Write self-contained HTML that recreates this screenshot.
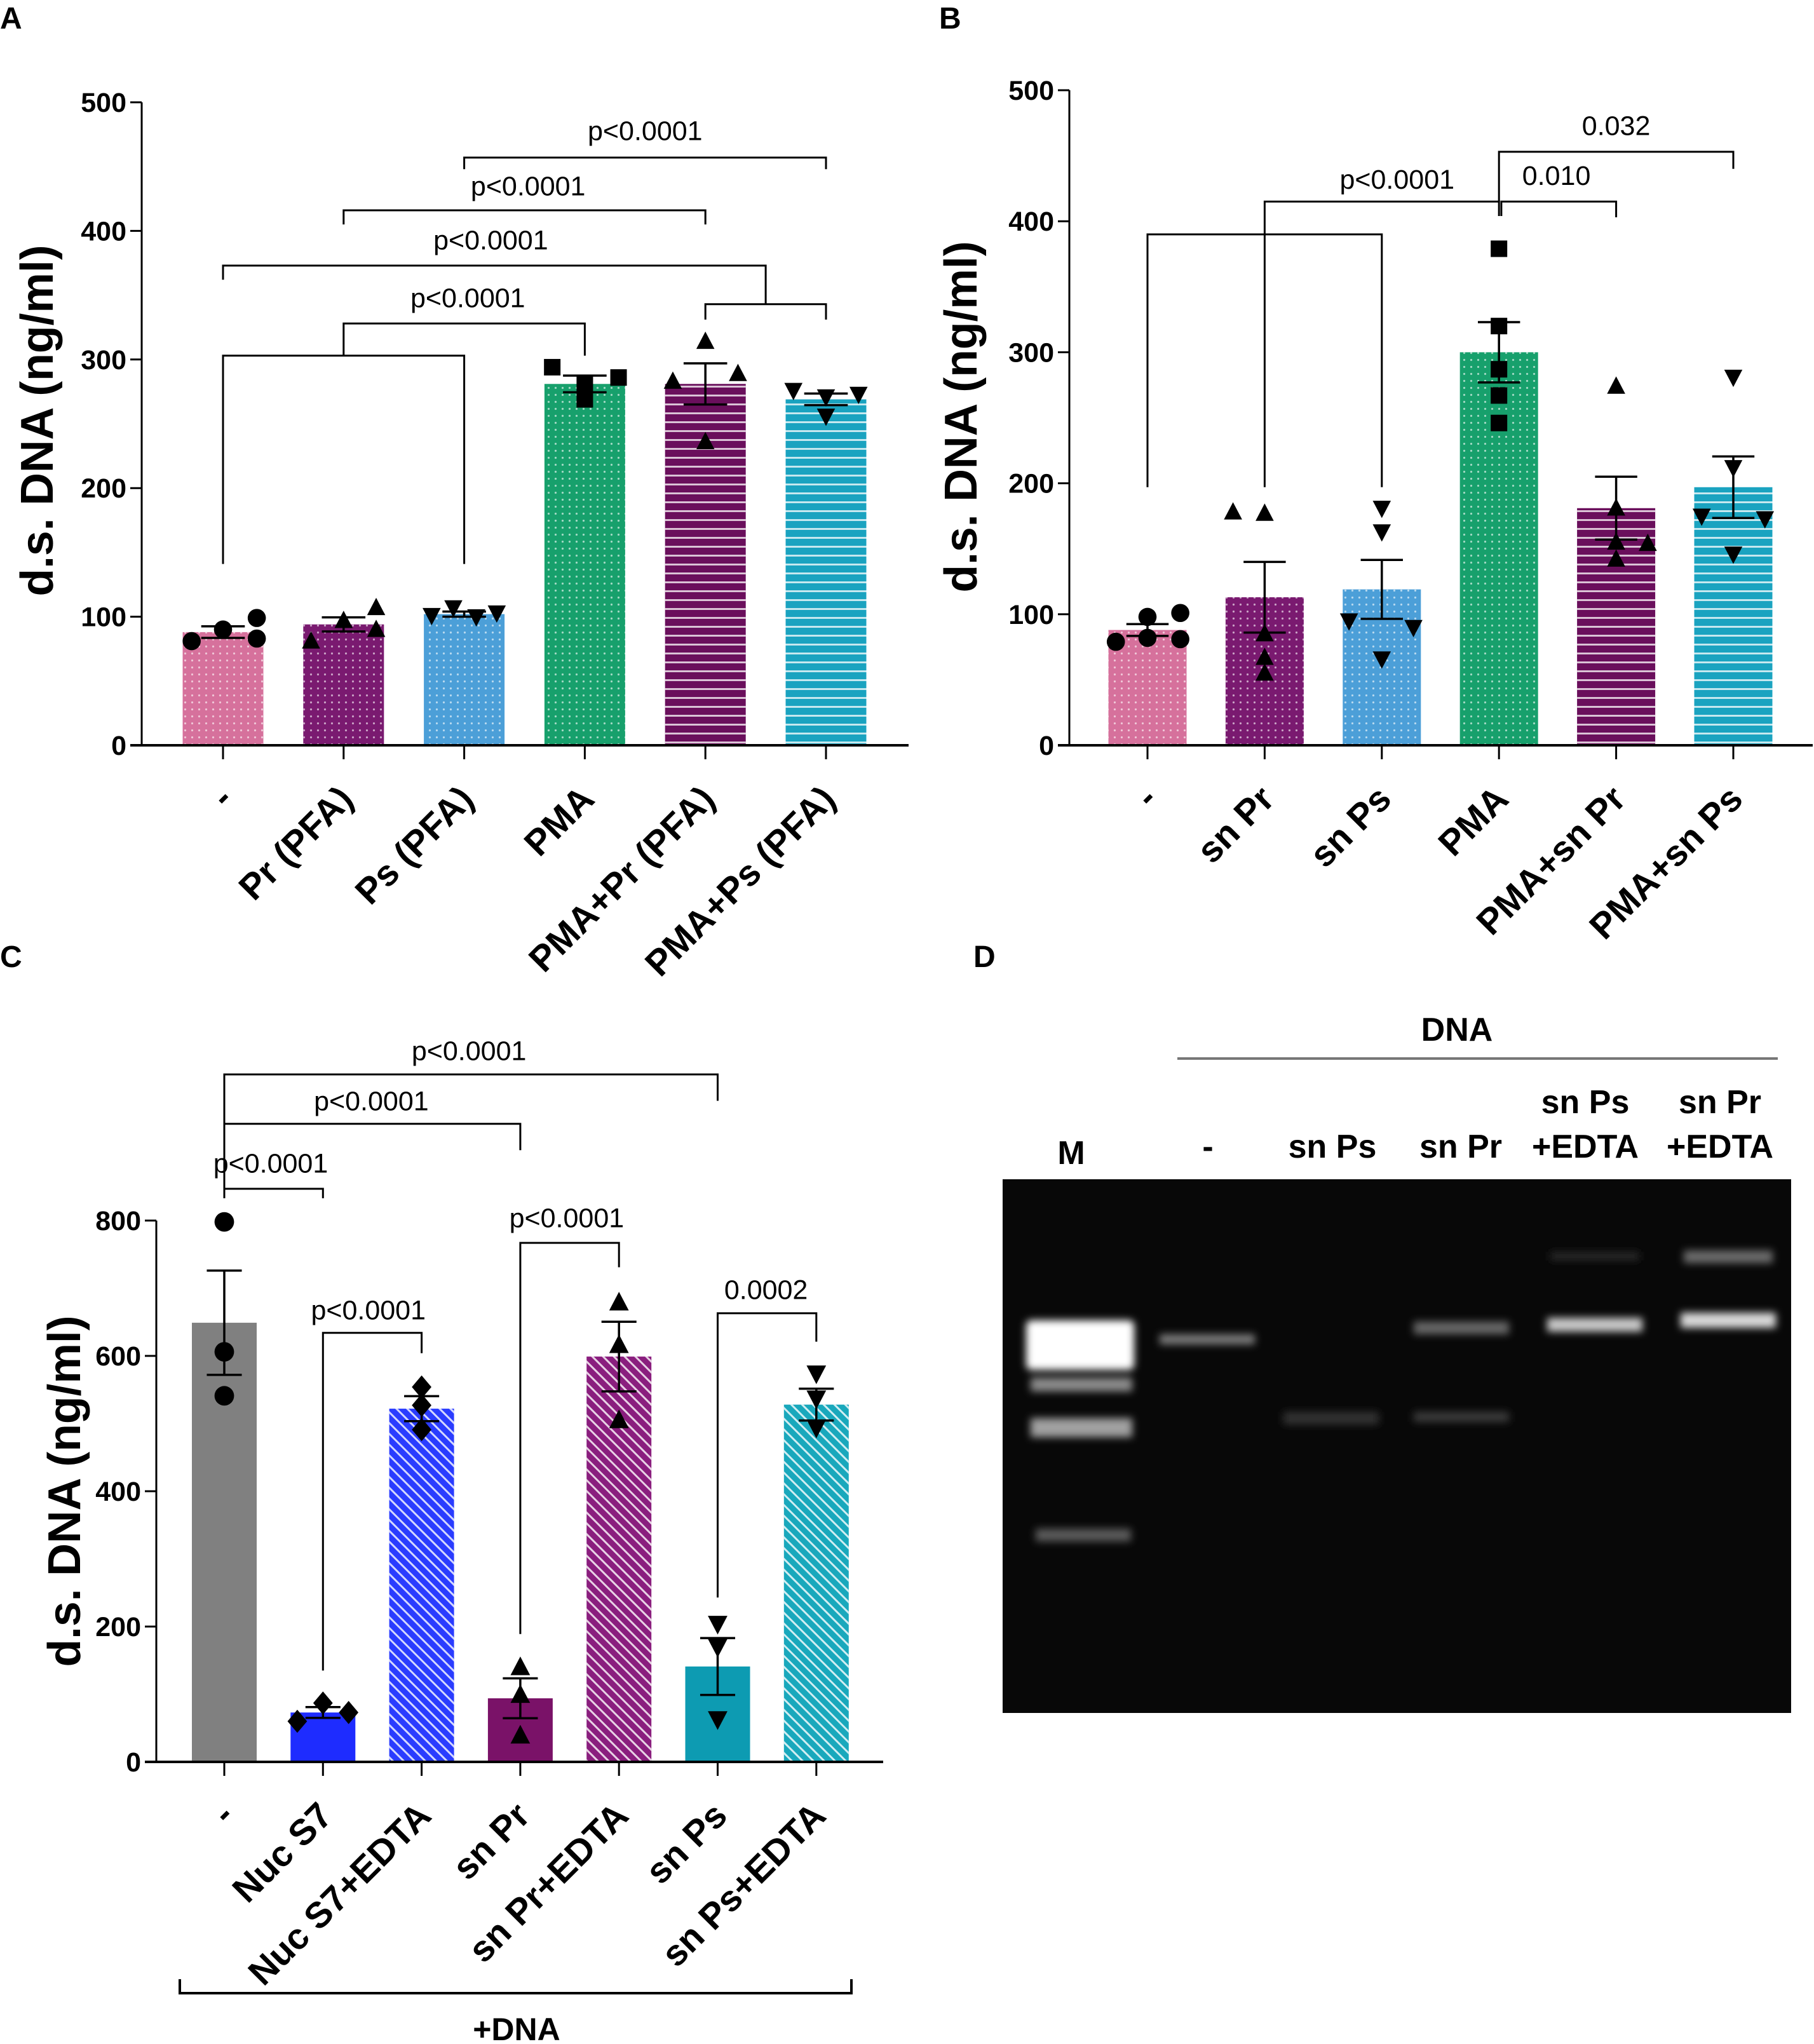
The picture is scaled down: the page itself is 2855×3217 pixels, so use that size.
<!DOCTYPE html>
<html><head><meta charset="utf-8">
<style>
html,body{margin:0;padding:0;background:#fff;}
svg{display:block;font-family:"Liberation Sans",Arial,sans-serif;}
</style></head>
<body>
<svg id="fig" width="2855" height="3217" viewBox="0 0 2855 3217" xmlns="http://www.w3.org/2000/svg">
<defs>
  <pattern id="dots" width="11" height="11" patternUnits="userSpaceOnUse"><circle cx="5.5" cy="5.5" r="1.6" fill="#fff" fill-opacity="0.6"/></pattern>
  <pattern id="hstripe" width="14" height="14" patternUnits="userSpaceOnUse"><rect x="0" y="5" width="14" height="3" fill="#fff" fill-opacity="0.75"/></pattern>
  <pattern id="diag" width="12" height="12" patternUnits="userSpaceOnUse" patternTransform="rotate(-45)"><rect x="0" y="0" width="3" height="12" fill="#fff" fill-opacity="0.8"/></pattern>
  <filter id="blur6" x="-50%" y="-50%" width="200%" height="200%"><feGaussianBlur stdDeviation="6"/></filter>
</defs>

<text x="0" y="45" font-size="48" font-weight="bold">A</text>
<text x="1478" y="45" font-size="48" font-weight="bold">B</text>
<text x="0" y="1522" font-size="48" font-weight="bold">C</text>
<text x="1532" y="1522" font-size="48" font-weight="bold">D</text>

<g id="gel">
  <text x="2293" y="1638" font-size="52" font-weight="bold" text-anchor="middle">DNA</text>
  <line x1="1853" y1="1666" x2="2798" y2="1666" stroke="#777" stroke-width="4"/>
  <text x="1686" y="1832" font-size="52" font-weight="bold" text-anchor="middle">M</text>
  <text x="1901" y="1822" font-size="52" font-weight="bold" text-anchor="middle">-</text>
  <text x="2097" y="1822" font-size="52" font-weight="bold" text-anchor="middle">sn Ps</text>
  <text x="2299" y="1822" font-size="52" font-weight="bold" text-anchor="middle">sn Pr</text>
  <text x="2495" y="1752" font-size="52" font-weight="bold" text-anchor="middle">sn Ps</text>
  <text x="2495" y="1822" font-size="52" font-weight="bold" text-anchor="middle">+EDTA</text>
  <text x="2707" y="1752" font-size="52" font-weight="bold" text-anchor="middle">sn Pr</text>
  <text x="2707" y="1822" font-size="52" font-weight="bold" text-anchor="middle">+EDTA</text>
  <rect x="1578" y="1856" width="1241" height="840" fill="#080808"/>
  <g filter="url(#blur6)">
    <rect x="1615" y="2078" width="170" height="78" rx="8" fill="#fff"/>
    <rect x="1622" y="2168" width="160" height="22" fill="#8a8a8a"/>
    <rect x="1622" y="2232" width="160" height="30" fill="#a0a0a0"/>
    <rect x="1630" y="2406" width="150" height="20" fill="#5a5a5a"/>
    <rect x="1825" y="2100" width="150" height="16" fill="#7a7a7a"/>
    <rect x="2225" y="2080" width="150" height="20" fill="#666"/>
    <rect x="2225" y="2222" width="150" height="16" fill="#3a3a3a"/>
    <rect x="2020" y="2222" width="150" height="20" fill="#333"/>
    <rect x="2435" y="2074" width="150" height="22" fill="#c8c8c8"/>
    <rect x="2440" y="1970" width="140" height="14" fill="#262626"/>
    <rect x="2645" y="2066" width="150" height="24" fill="#d8d8d8"/>
    <rect x="2650" y="1968" width="140" height="20" fill="#6a6a6a"/>
  </g>
</g>

<g id="charts"></g>

<script>
// ---------- Panel A data ----------
const catsA = ["-", "Pr (PFA)", "Ps (PFA)", "PMA", "PMA+Pr (PFA)", "PMA+Ps (PFA)"];
const meansA = [88, 94, 102, 281, 281, 269];
const semA = [4.5, 5.5, 2, 6.5, 16, 4.5];
const ptsA = [[81, 90, 99, 83], [81, 97, 107, 90], [101, 107, 100, 103], [294, 281, 269, 286], [283, 314, 236, 289], [276, 271, 256, 273]];
const jitA = [[-0.26, 0, 0.28, 0.28], [-0.27, 0, 0.27, 0.27], [-0.27, -0.09, 0.1, 0.27], [-0.27, 0, 0, 0.28], [-0.27, 0, 0, 0.27], [-0.27, 0, 0, 0.27]];
const ticksA = [0, 100, 200, 300, 400, 500];
const bracketsA = [[[0,141],[0,303],[2,303],[2,141]], [[1,303],[1,328],[3,328],[3,303]], [[0,362],[0,373],[4.5,373],[4.5,343]], [[4,331],[4,343],[5,343],[5,331]], [[1,405],[1,416],[4,416],[4,405]], [[2,448],[2,457],[5,457],[5,448]]];
const pTextA = ["p<0.0001", "p<0.0001", "p<0.0001", "p<0.0001"];
const pPosA = [[3.5, 478], [2.53, 435], [2.22, 393], [2.03, 348]];

// ---------- Panel B data ----------
const catsB = ["-", "sn Pr", "sn Ps", "PMA", "PMA+sn Pr", "PMA+sn Ps"];
const meansB = [88, 113, 119, 300, 181, 197];
const semB = [4.5, 27, 22.5, 23, 24, 23.5];
const ptsB = [[79, 98, 82, 101, 81], [178, 177, 85, 67, 55], [181, 163, 95, 90, 66], [379, 320, 287, 267, 246], [274, 181, 155, 154, 142], [281, 212, 175, 173, 146]];
const jitB = [[-0.27, 0, 0, 0.28, 0.28], [-0.27, 0, 0, 0, 0], [0, 0, -0.28, 0.27, 0], [0, 0, 0, 0, 0], [0, 0, 0, 0.27, 0], [0, 0, -0.27, 0.27, 0]];
const ticksB = [0, 100, 200, 300, 400, 500];
const bracketsB = [[[0,197],[0,390],[2,390],[2,197]], [[1,197],[1,415],[3,415],[3,404]], [[3.02,404],[3.02,415],[4,415],[4,403]], [[3,415],[3,453],[5,453],[5,440]]];
const pTextB = ["p<0.0001", "0.010", "0.032"];
const pPosB = [[2.13, 432], [3.49, 435], [4.0, 473]];

// ---------- Panel C data ----------
const catsC = ["-", "Nuc S7", "Nuc S7+EDTA", "sn Pr", "sn Pr+EDTA", "sn Ps", "sn Ps+EDTA"];
const meansC = [649, 73, 522, 94, 599, 141, 528];
const semC = [77, 8, 18.5, 29.5, 51.5, 42, 23.5];
const ptsC = [[798, 606, 541], [60, 87, 73], [554, 527, 491], [140, 99, 39], [679, 616, 505], [204, 170, 63], [574, 537, 494]];
const jitC = [[0, 0, 0], [-0.26, 0, 0.26], [0, 0, 0], [0, 0, 0], [0, 0, 0], [0, 0, 0], [0, 0, 0]];
const ticksC = [0, 200, 400, 600, 800];
const bracketsC = [[[0,833],[0,1016],[5,1016],[5,977]], [[0,943],[3,943],[3,904]], [[0,847],[1,847],[1,833]], [[3,189],[3,767],[4,767],[4,731]], [[1,135],[1,634],[2,634],[2,604]], [[5,243],[5,663],[6,663],[6,621]]];
const pTextC = ["p<0.0001", "p<0.0001", "p<0.0001", "p<0.0001", "p<0.0001", "0.0002"];
const pPosC = [[2.48, 1051], [1.49, 977], [0.47, 885], [3.47, 804], [1.46, 668], [5.49, 698]];

const NS = "http://www.w3.org/2000/svg";
const root = document.getElementById("charts");
function mk(tag, attrs, parent) {
  const e = document.createElementNS(NS, tag);
  for (const k in attrs) e.setAttribute(k, attrs[k]);
  (parent || root).appendChild(e);
  return e;
}
function marker(shape, cx, cy, s, parent) {
  let e;
  if (shape === "circle") e = mk("circle", {cx: cx, cy: cy, r: s * 0.55, fill: "#000"}, parent);
  else if (shape === "square") e = mk("rect", {x: cx - s * 0.5, y: cy - s * 0.5, width: s, height: s, fill: "#000"}, parent);
  else if (shape === "up") e = mk("polygon", {points: `${cx},${cy - s * 0.6} ${cx - s * 0.55},${cy + s * 0.45} ${cx + s * 0.55},${cy + s * 0.45}`, fill: "#000"}, parent);
  else if (shape === "down") e = mk("polygon", {points: `${cx},${cy + s * 0.6} ${cx - s * 0.55},${cy - s * 0.45} ${cx + s * 0.55},${cy - s * 0.45}`, fill: "#000"}, parent);
  else e = mk("polygon", {points: `${cx},${cy - s * 0.65} ${cx + s * 0.55},${cy} ${cx},${cy + s * 0.65} ${cx - s * 0.55},${cy}`, fill: "#000"}, parent);
  return e;
}

function drawPanel(cfg) {
  const g = mk("g", {});
  
  
  const yv = v => cfg.y0 - v * cfg.pxPerUnit;
  const xi = i => cfg.c0 + i * cfg.step;
  cfg.means.forEach((m, i) => {
    const b = mk("rect", {x: xi(i) - cfg.bw / 2, y: yv(m), width: cfg.bw, height: yv(0) - yv(m), fill: cfg.colors[i]}, g);
    
    
    if (cfg.patterns[i]) {
      const p = mk("rect", {x: xi(i) - cfg.bw / 2, y: yv(m), width: cfg.bw, height: yv(0) - yv(m), fill: "url(#" + cfg.patterns[i] + ")"}, g);
      
      
    }
  });
  const ya = mk("line", {x1: cfg.ax, y1: yv(cfg.ymax), x2: cfg.ax, y2: yv(0), stroke: "#000", "stroke-width": 3}, g);
  
  
  const xa = mk("line", {x1: cfg.ax - 18, y1: yv(0), x2: cfg.axEnd, y2: yv(0), stroke: "#000", "stroke-width": 4}, g);
  
  
  cfg.ticks.forEach(t => {
    const tl = mk("line", {x1: cfg.ax - 18, y1: yv(t), x2: cfg.ax, y2: yv(t), stroke: "#000", "stroke-width": 3}, g);
    
    
    const tx = mk("text", {x: cfg.ax - 24, y: yv(t) + 15, "font-size": 43, "font-weight": "bold", "text-anchor": "end"}, g);
    tx.textContent = t;
    
    
  });
  const title = mk("text", {x: 0, y: 0, "font-size": 72, "font-weight": "bold", "text-anchor": "middle", textLength: cfg.titleLen, lengthAdjust: "spacingAndGlyphs", transform: `translate(${cfg.titleX},${cfg.titleY}) rotate(-90)`}, g);
  title.textContent = "d.s. DNA (ng/ml)";
  
  
  cfg.cats.forEach((c, i) => {
    const tl = mk("line", {x1: xi(i), y1: yv(0), x2: xi(i), y2: yv(0) + 22, stroke: "#000", "stroke-width": 3}, g);
    
    
    const lx = xi(i) + 18, ly = yv(0) + 88;
    const t = mk("text", {x: lx, y: ly, "font-size": 57, "font-weight": "bold", "text-anchor": "end", transform: `rotate(-45 ${lx} ${ly})`}, g);
    t.textContent = c;
    
    
  });
  cfg.means.forEach((m, i) => {
    const hi = yv(m + cfg.sem[i]), lo = yv(m - cfg.sem[i]), cx = xi(i), cw = cfg.bw * 0.27;
    const e = mk("path", {d: `M${cx},${hi}V${lo}M${cx - cw},${hi}H${cx + cw}M${cx - cw},${lo}H${cx + cw}`, stroke: "#000", "stroke-width": 3.5, fill: "none"}, g);
    
    
  });
  cfg.pts.forEach((arr, i) => {
    arr.forEach((v, j) => {
      const p = marker(cfg.shapes[i], xi(i + cfg.jit[i][j]), yv(v), cfg.ms, g);
      
      
    });
  });
  cfg.brackets.forEach(br => {
    const d = br.map((p, k) => (k ? "L" : "M") + xi(p[0]) + "," + yv(p[1])).join("");
    const b = mk("path", {d: d, stroke: "#000", "stroke-width": 3, fill: "none"}, g);
    
    
  });
  cfg.pText.forEach((s, k) => {
    const t = mk("text", {x: xi(cfg.pPos[k][0]), y: yv(cfg.pPos[k][1]) + 15, "font-size": 43, "text-anchor": "middle"}, g);
    t.textContent = s;
    
    
  });
}

drawPanel({name: "chart-a", key: "a", cats: catsA, means: meansA, sem: semA, pts: ptsA, jit: jitA, ticks: ticksA, ymax: 500,
  brackets: bracketsA, pText: pTextA, pPos: pPosA,
  y0: 1173, pxPerUnit: 2.024, c0: 351, step: 189.8, bw: 127, ax: 223, axEnd: 1430, ms: 26,
  titleX: 83, titleY: 662, titleLen: 553,
  colors: ["#d6719c", "#7a1a70", "#4c9fd8", "#17a06c", "#6a0f5c", "#1aa3c0"],
  patterns: ["dots", "dots", "dots", "dots", "hstripe", "hstripe"],
  shapes: ["circle", "up", "down", "square", "up", "down"]});

drawPanel({name: "chart-b", key: "b", cats: catsB, means: meansB, sem: semB, pts: ptsB, jit: jitB, ticks: ticksB, ymax: 500,
  brackets: bracketsB, pText: pTextB, pPos: pPosB,
  y0: 1173, pxPerUnit: 2.062, c0: 1806, step: 184.4, bw: 123, ax: 1683, axEnd: 2853, ms: 26,
  titleX: 1537, titleY: 656, titleLen: 553,
  colors: ["#d6719c", "#7a1a70", "#4c9fd8", "#17a06c", "#6a0f5c", "#1aa3c0"],
  patterns: ["dots", "dots", "dots", "dots", "hstripe", "hstripe"],
  shapes: ["circle", "up", "down", "square", "up", "down"]});

drawPanel({name: "chart-c", key: "c", cats: catsC, means: meansC, sem: semC, pts: ptsC, jit: jitC, ticks: ticksC, ymax: 800,
  brackets: bracketsC, pText: pTextC, pPos: pPosC,
  y0: 2773, pxPerUnit: 1.065, c0: 353, step: 155.3, bw: 102, ax: 246, axEnd: 1390, ms: 28,
  titleX: 126, titleY: 2347, titleLen: 553,
  colors: ["#808080", "#1e2cff", "#2a3cff", "#7a1268", "#8a1e7e", "#0d9bb2", "#19a8bc"],
  patterns: ["", "", "diag", "", "diag", "", "diag"],
  shapes: ["circle", "diamond", "diamond", "up", "up", "down", "down"]});
</script>

<path d="M283,3115V3137H1340V3115" stroke="#000" stroke-width="4" fill="none"/>
<text x="813" y="3211" font-size="50" font-weight="bold" text-anchor="middle">+DNA</text>
</svg>
</body></html>
